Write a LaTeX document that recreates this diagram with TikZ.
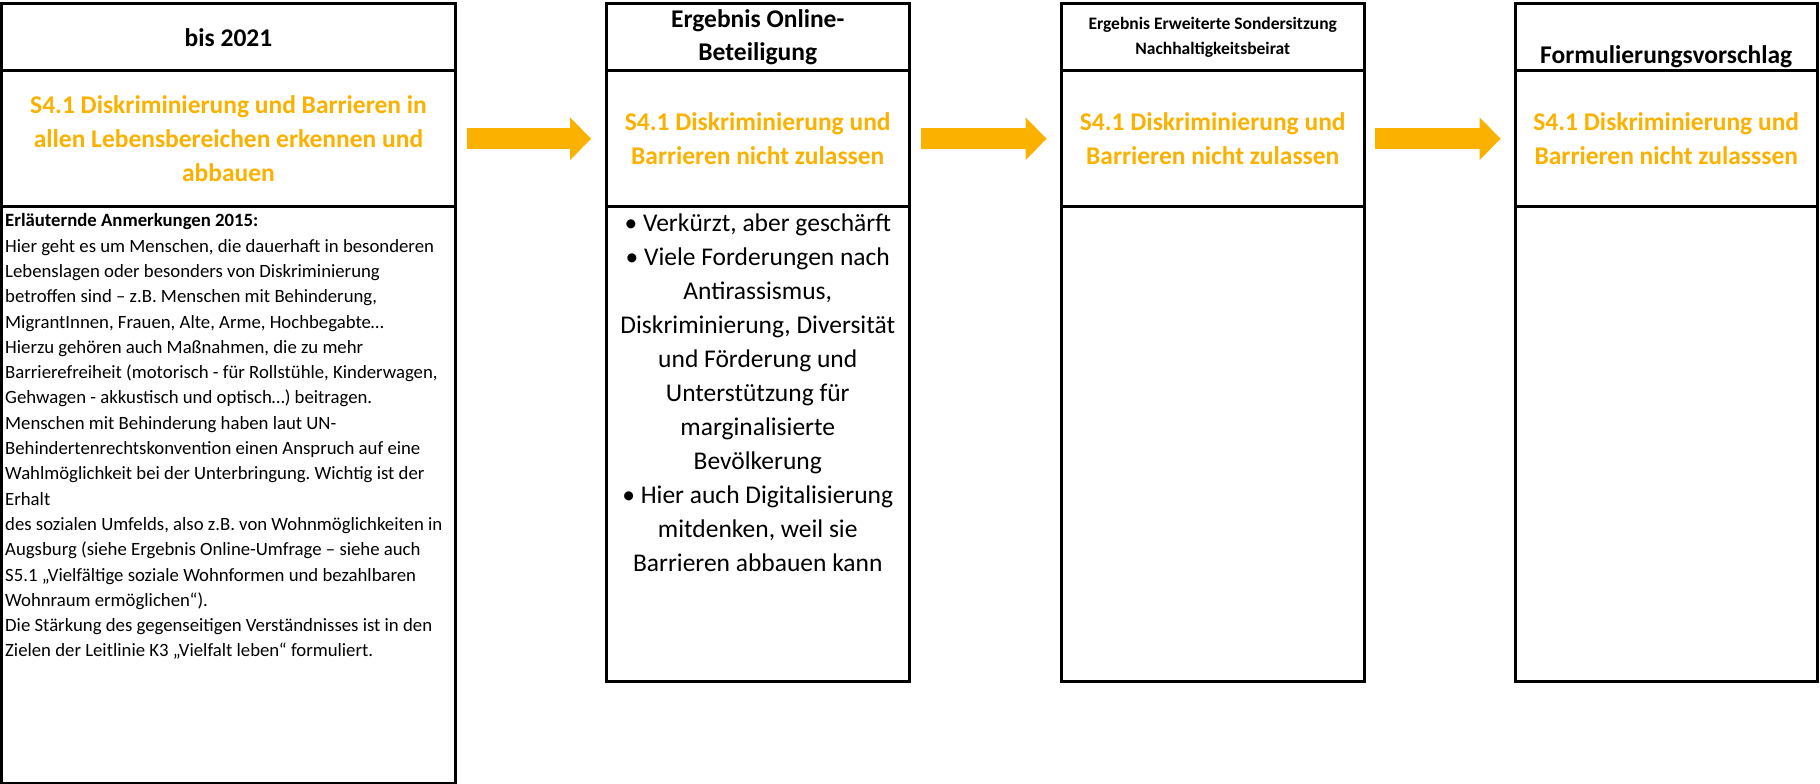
\documentclass[tikz,border=0pt]{standalone}
\usepackage{fontspec}
\setmainfont{Carlito}
\frenchspacing
\usetikzlibrary{arrows.meta,positioning}
\definecolor{amber}{RGB}{251,177,0}

\begin{document}
\begin{tikzpicture}[x=1pt, y=-1pt,
    cell/.style={draw, line width=3pt, outer sep=0pt, inner sep=0pt, align=center},
    hd/.style={cell, minimum height=67pt, font=\fontsize{25.5}{33}\selectfont\bfseries},
    ttl/.style={cell, minimum height=135.5pt, text=amber, font=\fontsize{25.5}{34}\selectfont\bfseries},
    flow/.style={amber, line width=21pt, shorten <=11pt, shorten >=15pt,
      -{Triangle[length=21pt, width=43pt, line width=0pt]}}]
  \useasboundingbox (0,0) rectangle (1820,784);

  % bis 2021
  \node[hd, minimum width=454pt, anchor=north] (h1) at (228.5,4) {bis 2021};
  \node[ttl, minimum width=454pt, below=0pt of h1] (t1)
    {S4.1 Diskriminierung und Barrieren in\\allen Lebensbereichen erkennen und\\abbauen};
  \node[cell, minimum width=454pt, minimum height=576.5pt, below=0pt of t1] (b1) {};
  \node[anchor=north west, inner sep=0pt, align=left, font=\fontsize{18.75}{25.3}\selectfont] (n1) at (5,213.5)
    {\textbf{Erläuternde Anmerkungen 2015:}\\
     Hier geht es um Menschen, die dauerhaft in besonderen\\
     Lebenslagen oder besonders von Diskriminierung\\
     betroffen sind – z.B. Menschen mit Behinderung,\\
     MigrantInnen, Frauen, Alte, Arme, Hochbegabte…\\
     Hierzu gehören auch Maßnahmen, die zu mehr\\
     Barrierefreiheit (motorisch - für Rollstühle, Kinderwagen,\\
     Gehwagen - akkustisch und optisch…) beitragen.\\
     Menschen mit Behinderung haben laut UN-\\
     Behindertenrechtskonvention einen Anspruch auf eine\\
     Wahlmöglichkeit bei der Unterbringung. Wichtig ist der\\
     Erhalt\\
     des sozialen Umfelds, also z.B. von Wohnmöglichkeiten in\\
     Augsburg (siehe Ergebnis Online-Umfrage – siehe auch\\
     S5.1 „Vielfältige soziale Wohnformen und bezahlbaren\\
     Wohnraum ermöglichen“).\\
     Die Stärkung des gegenseitigen Verständnisses ist in den\\
     Zielen der Leitlinie K3 „Vielfalt leben“ formuliert.};

  % Online-Beteiligung
  \node[hd, minimum width=303.5pt, anchor=north] (h2) at (757.75,4) {Ergebnis Online-\\Beteiligung};
  \node[ttl, minimum width=303.5pt, below=0pt of h2] (t2) {S4.1 Diskriminierung und\\Barrieren nicht zulassen};
  \node[cell, minimum width=303.5pt, minimum height=475pt, below=0pt of t2] (b2) {};
  \node[anchor=north, inner sep=0pt, align=center, font=\fontsize{25.5}{34}\selectfont] (n2) at (757.75,214)
    {• Verkürzt, aber geschärft\\
     • Viele Forderungen nach\\
     Antirassismus,\\
     Diskriminierung, Diversität\\
     und Förderung und\\
     Unterstützung für\\
     marginalisierte\\
     Bevölkerung\\
     • Hier auch Digitalisierung\\
     mitdenken, weil sie\\
     Barrieren abbauen kann};

  % Sondersitzung
  \node[hd, minimum width=302.5pt, anchor=north, font=\fontsize{17.5}{25}\selectfont\bfseries] (h3) at (1212.75,4)
    {Ergebnis Erweiterte Sondersitzung\\Nachhaltigkeitsbeirat};
  \node[ttl, minimum width=302.5pt, below=0pt of h3] (t3) {S4.1 Diskriminierung und\\Barrieren nicht zulassen};
  \node[cell, minimum width=302.5pt, minimum height=475pt, below=0pt of t3] (b3) {};

  % Formulierungsvorschlag
  \node[hd, minimum width=301.5pt, anchor=north] (h4) at (1666.25,4) {};
  \node[anchor=base, inner sep=0pt, font=\fontsize{25.5}{33}\selectfont\bfseries] (n4) at (1666.25,63.5) {Formulierungsvorschlag};
  \node[ttl, minimum width=301.5pt, below=0pt of h4] (t4) {S4.1 Diskriminierung und\\Barrieren nicht zulasssen};
  \node[cell, minimum width=301.5pt, minimum height=475pt, below=0pt of t4] (b4) {};

  \draw[flow] (t1.east) -- (t2.west);
  \draw[flow] (t2.east) -- (t3.west);
  \draw[flow] (t3.east) -- (t4.west);
\end{tikzpicture}
\end{document}
